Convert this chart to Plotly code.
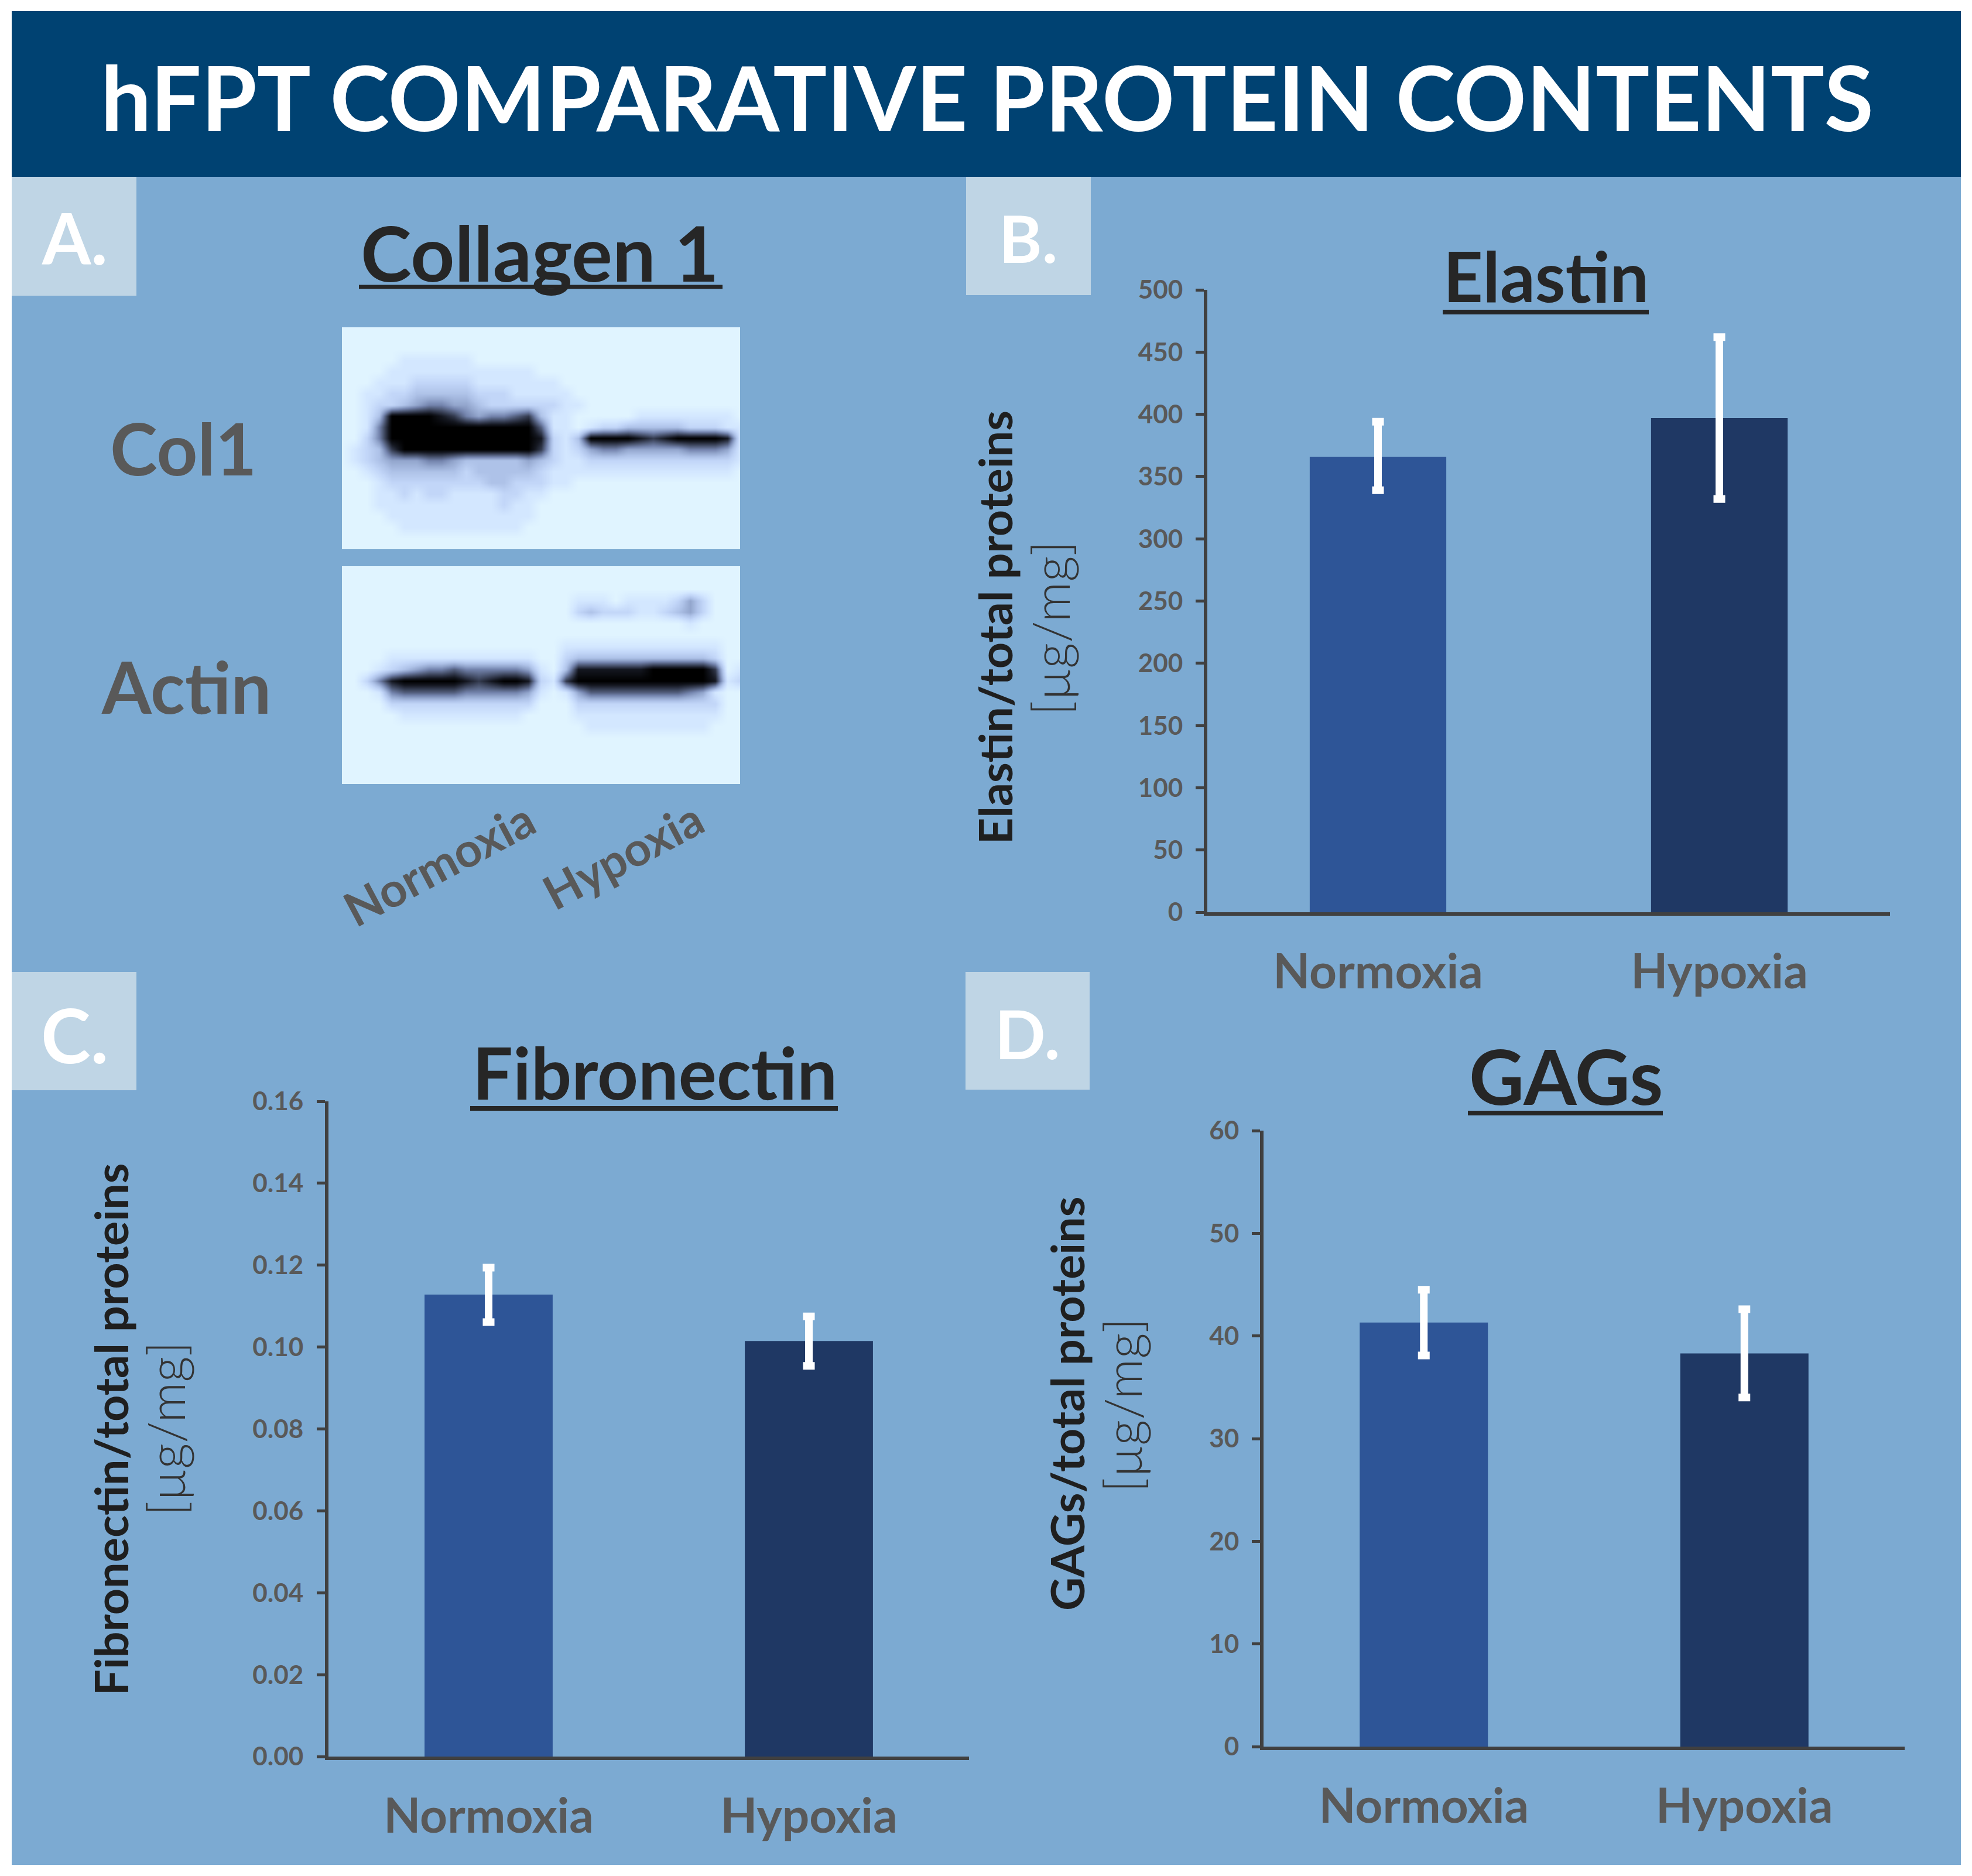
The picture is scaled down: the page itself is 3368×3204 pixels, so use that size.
import plotly.graph_objects as go

W, H = 3368, 3204
FONT = "Lato"

categories = ["Normoxia", "Hypoxia"]
bar_colors = ["#2E5597", "#1F3864"]

elastin_means = [366, 397]
elastin_upper = [394, 462]
elastin_lower = [339, 332]
elastin_ticks = [0, 50, 100, 150, 200, 250, 300, 350, 400, 450, 500]

fibronectin_means = [0.1128, 0.1015]
fibronectin_upper = [0.1194, 0.1075]
fibronectin_lower = [0.1061, 0.0954]
fibronectin_ticks = [0.00, 0.02, 0.04, 0.06, 0.08, 0.10, 0.12, 0.14, 0.16]

gags_means = [41.3, 38.3]
gags_upper = [44.5, 42.6]
gags_lower = [38.1, 34.0]
gags_ticks = [0, 10, 20, 30, 40, 50, 60]

# Blot band intensity, 0 (clear film) to 9 (black)
col1_blot = [
    "00000 00000 00000 00000 00000 00000 000",
    "00000 00000 00000 00000 00000 00000 000",
    "00000 00000 00000 00000 00000 00000 000",
    "00000 11111 10000 00000 00000 00000 000",
    "00001 11111 11111 10000 00000 00000 000",
    "00011 12222 21111 11100 00000 00000 000",
    "00112 23333 32221 11110 00000 00000 000",
    "00122 34554 43222 22211 00000 00000 000",
    "00139 99987 54556 73110 00001 11111 110",
    "00159 99999 99999 96110 12233 33322 211",
    "00259 99999 99999 98213 99998 78999 981",
    "01237 99999 99999 97212 45544 44455 541",
    "01234 44554 33333 43211 22222 22222 221",
    "00123 33333 23333 32111 11111 11111 110",
    "00012 22222 22332 22110 00000 00000 000",
    "00011 21221 11122 11000 00000 00000 000",
    "00011 11111 11121 10000 00000 00000 000",
    "00001 11111 11111 10000 00000 00000 000",
    "00000 11111 11111 00000 00000 00000 000",
    "00000 00000 00000 00000 00000 00000 000",
    "00000 00000 00000 00000 00000 00000 000",
]
actin_blot = [
    "00000 00000 00000 00000 00000 00000 000",
    "00000 00000 00000 00000 00000 00000 000",
    "00000 00000 00000 00000 00000 00000 000",
    "00000 00000 00000 00001 11011 11242 000",
    "00000 00000 00000 00002 32221 12342 000",
    "00000 00000 00000 00000 00000 00010 000",
    "00000 00000 00000 00000 00000 00000 000",
    "00000 00000 00000 00011 11111 11111 100",
    "00001 11111 11111 10023 33333 33333 200",
    "00012 34556 55555 41038 88888 99999 701",
    "00258 99999 87899 82179 99999 99999 812",
    "00015 66666 55555 41014 66666 66654 100",
    "00002 22222 22222 20002 22222 22222 200",
    "00000 11111 11111 00001 11111 11111 100",
    "00000 00000 00000 00000 11111 11111 000",
    "00000 00000 00000 00000 00000 00000 000",
    "00000 00000 00000 00000 00000 00000 000",
    "00000 00000 00000 00000 00000 00000 000",
    "00000 00000 00000 00000 00000 00000 000",
    "00000 00000 00000 00000 00000 00000 000",
]


def px_x(x):
    return x / W


def px_y(y):
    return 1 - y / H


fig = go.Figure()
shapes = []
annotations = []


def rect(x0, y0, x1, y1, color):
    shapes.append(dict(type="rect", xref="paper", yref="paper", layer="below",
                       x0=px_x(x0), x1=px_x(x1), y0=px_y(y1), y1=px_y(y0),
                       fillcolor=color, line_width=0))


def line(x0, x1, y, width, color):
    shapes.append(dict(type="line", xref="paper", yref="paper",
                       x0=px_x(x0), x1=px_x(x1), y0=px_y(y), y1=px_y(y),
                       line=dict(color=color, width=width)))


def text(s, x, y, size, color, weight=700, angle=0):
    annotations.append(dict(text=s, xref="paper", yref="paper", x=px_x(x), y=px_y(y),
                            xanchor="center", yanchor="middle", showarrow=False,
                            textangle=angle,
                            font=dict(family=FONT, size=size, color=color, weight=weight)))


GRAY = "#595959"
INK = "#262626"
LABEL = "#1F1F1F"
UNIT = "#333333"
AXIS = "#404040"

rect(20, 19, 3349, 3185, "#7CAAD2")
rect(20, 19, 3349, 302, "#004272")
rect(20, 302, 233, 505, "#BFD5E5")
rect(1650, 302, 1863, 504, "#BFD5E5")
rect(20, 1660, 233, 1862, "#BFD5E5")
rect(1649, 1660, 1861, 1861, "#BFD5E5")

text("hFPT COMPARATIVE PROTEIN CONTENTS", 1686, 164, 153.5, "#FFFFFF")
text("A.", 127, 406, 120, "#FFFFFF")
text("B.", 1756, 405, 112, "#FFFFFF")
text("C.", 127, 1767, 128, "#FFFFFF")
text("D.", 1755, 1765, 114, "#FFFFFF")

text("Collagen 1", 922, 430, 131, INK)
line(613, 1234, 490, 7, INK)
text("Elastin", 2640, 471, 118, INK)
line(2464, 2816, 533, 8, INK)
text("Fibronectin", 1118, 1831, 122, INK)
line(803, 1431, 1893, 8, INK)
text("GAGs", 2675, 1837, 130, INK)
line(2507, 2840, 1901, 8, INK)

text("Col1", 313, 765, 122, GRAY)
text("Actin", 318, 1172, 122, GRAY)
text("Normoxia", 749, 1474, 81, GRAY, angle=-28)
text("Hypoxia", 1063, 1460, 80, GRAY, angle=-28)

text("Elastin/total proteins", 1699, 1072, 79, LABEL, angle=-90)
text("[µg/mg]", 1793, 1073, 86, UNIT, weight=300, angle=-90)
text("Fibronectin/total proteins", 188, 2442, 79, LABEL, angle=-90)
text("[µg/mg]", 282, 2440, 86, UNIT, weight=300, angle=-90)
text("GAGs/total proteins", 1821, 2398, 79, LABEL, angle=-90)
text("[µg/mg]", 1916, 2400, 86, UNIT, weight=300, angle=-90)

blot_scale = [[0, "#E0F4FF"], [1 / 9, "#D3E7FF"], [2 / 9, "#C2D6F8"], [3 / 9, "#AEC2E8"],
              [4 / 9, "#93A6CD"], [5 / 9, "#7383AC"], [6 / 9, "#535F7D"], [7 / 9, "#333A4E"],
              [8 / 9, "#141720"], [1, "#000000"]]


def add_blot(rows, idx, x0, y0, x1, y1):
    z = [[int(c) for c in r.replace(" ", "")] for r in rows]
    fig.add_trace(go.Heatmap(z=z, zmin=0, zmax=9, colorscale=blot_scale, showscale=False,
                             zsmooth="best", xaxis=f"x{idx}", yaxis=f"y{idx}", hoverinfo="skip"))
    ax = dict(domain=[px_x(x0), px_x(x1)], visible=False, fixedrange=True,
              range=[0, len(z[0]) - 1], anchor=f"y{idx}")
    ay = dict(domain=[px_y(y1), px_y(y0)], visible=False, fixedrange=True,
              range=[len(z) - 1, 0], anchor=f"x{idx}")
    fig.update_layout({f"xaxis{idx}": ax, f"yaxis{idx}": ay})


def add_panel(idx, means, upper, lower, ticks, fmt, left, right, top, bottom, standoff, xstand):
    plus = [round(u - m, 5) for u, m in zip(upper, means)]
    minus = [round(m - l, 5) for m, l in zip(means, lower)]
    fig.add_trace(go.Bar(x=categories, y=means, width=0.4, marker=dict(color=bar_colors, line_width=0),
                         error_y=dict(type="data", symmetric=False, array=plus, arrayminus=minus,
                                      color="#FFFFFF", thickness=13, width=10),
                         xaxis=f"x{idx}", yaxis=f"y{idx}", showlegend=False))
    fig.update_layout({
        f"xaxis{idx}": dict(domain=[px_x(left), px_x(right)], anchor=f"y{idx}", type="category",
                            range=[-0.5, 1.5], showgrid=False, zeroline=False, showline=True,
                            linecolor=AXIS, linewidth=6, ticks="", ticklabelstandoff=xstand,
                            tickfont=dict(family=FONT, size=82, color=GRAY, weight=700)),
        f"yaxis{idx}": dict(domain=[px_y(bottom), px_y(top)], anchor=f"x{idx}",
                            range=[ticks[0], ticks[-1]], tickmode="array", tickvals=ticks,
                            ticktext=[fmt.format(t) for t in ticks], showgrid=False, zeroline=False,
                            showline=True, linecolor=AXIS, linewidth=6, ticks="outside",
                            ticklen=14, tickwidth=5, tickcolor=AXIS, ticklabelstandoff=standoff,
                            tickfont=dict(family=FONT, size=44, color=GRAY, weight=700)),
    })


add_blot(col1_blot, 1, 584, 559, 1264, 938)
add_blot(actin_blot, 2, 584, 967, 1264, 1339)
add_panel(3, elastin_means, elastin_upper, elastin_lower, elastin_ticks, "{:d}", 2062, 3228, 495, 1558, 13, 26)
add_panel(4, fibronectin_means, fibronectin_upper, fibronectin_lower, fibronectin_ticks, "{:.2f}", 561, 1655, 1881, 3000, 14, 26)
add_panel(5, gags_means, gags_upper, gags_lower, gags_ticks, "{:d}", 2158, 3253, 1931, 2983, 13, 26)

fig.update_layout(width=W, height=H, margin=dict(l=0, r=0, t=0, b=0, pad=0, autoexpand=False), autosize=False,
                  paper_bgcolor="#FFFFFF", plot_bgcolor="rgba(0,0,0,0)", showlegend=False,
                  shapes=shapes, annotations=annotations, bargap=0.6)

fig.write_html("out.html", config={"displayModeBar": False},
               post_script="document.body.style.margin='0';")
